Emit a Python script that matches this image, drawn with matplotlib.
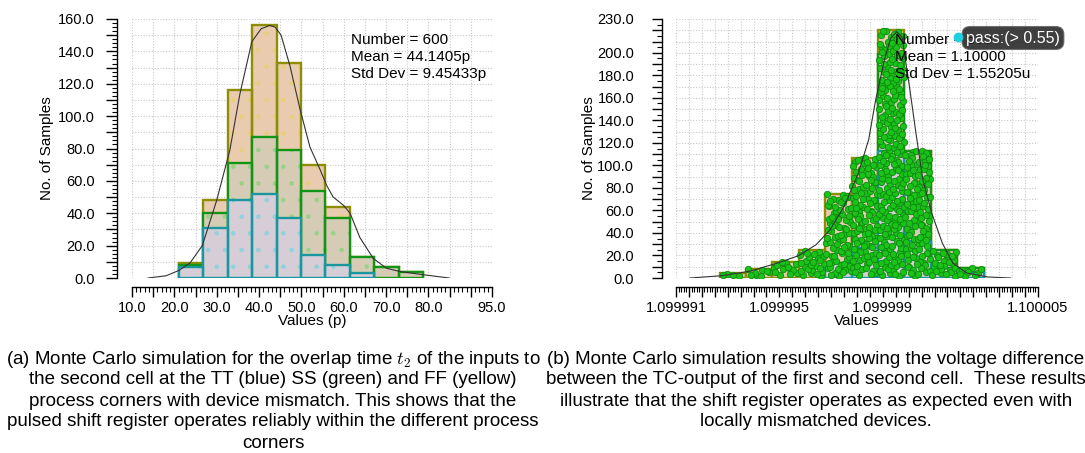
import numpy as np
import matplotlib
matplotlib.use('Agg')
import matplotlib.pyplot as plt
from matplotlib.ticker import MultipleLocator, FuncFormatter

plt.rcParams['font.family'] = ['Liberation Sans', 'DejaVu Sans']
plt.rcParams['mathtext.fontset'] = 'cm'
plt.rcParams['hatch.linewidth'] = 1.0

# ---------------- data (a): overlap time t2, stacked corners ----------------
a_bin_start = 21.1
a_bin_width = 5.76
a_tt = [7, 31, 48, 52, 37, 14, 8, 3, 0, 0]      # blue
a_ss = [1, 9, 23, 35, 42, 40, 29, 10, 7, 4]     # green
a_ff = [1, 8, 45, 69, 54, 16, 7, 0, 0, 0]       # yellow
a_curve_x = [13.8, 18.1, 21.1, 23.7, 26.6, 30.0, 33.1, 35.5, 38.3, 40.5, 42.5,
             43.8, 45.2, 47.3, 49.7, 52.0, 54.4, 56.0, 57.5, 59.9, 61.5, 63.8,
             67.0, 70.1, 73.3, 78.8, 84.9]
a_curve_y = [0, 1.4, 4.7, 9.3, 20, 48, 79, 114, 146, 154, 156,
             155, 150, 131, 104, 81, 67, 57, 50, 45, 40, 25,
             12, 6, 4, 2, 0]
a_stats = ["Number = 600", "Mean = 44.1405p", "Std Dev = 9.45433p"]
a_xlabels = [10, 20, 30, 40, 50, 60, 70, 80, 95]

# ---------------- data (b): voltage difference ----------------
b_origin = 1.099991
b_bin_start_u = 1.69       # micro-units above origin
b_bin_width_u = 1.021
b_tt = [0, 0, 0, 0, 13, 27, 113, 33, 9, 5]
b_ss = [0, 0, 0, 0, 0, 14, 86, 80, 16, 4]
b_ff = [4, 8, 14, 25, 62, 66, 21, 0, 0, 0]
b_curve_u = [0.54, 1.76, 2.85, 3.93, 4.74, 5.42, 5.96, 6.50, 7.05, 7.45, 7.72,
             8.06, 8.30, 8.54, 8.74, 9.01, 9.28, 9.55, 9.89, 10.30, 10.70,
             11.25, 12.06, 12.94]
b_curve_y = [0, 2, 6, 13.3, 19.8, 29.6, 42.9, 63.6, 93, 122.7, 158,
             193.6, 213, 218.7, 214, 173, 128.6, 87, 57.6, 31, 13.3,
             4.4, 0.9, 0]
b_stats = ["Number = 600", "Mean = 1.10000", "Std Dev = 1.55205u"]
b_xlabels = ["1.099991", "1.099995", "1.099999", "1.100005"]
b_marker_label = "pass:(> 0.55)"

W, H = 1085, 453
fig = plt.figure(figsize=(W / 100, H / 100), dpi=100)

def px(x0, y0, x1, y1):
    return [x0 / W, 1 - y1 / H, (x1 - x0) / W, (y1 - y0) / H]

ax1 = fig.add_axes(px(132, 19, 492, 278))
ax2 = fig.add_axes(px(676, 19, 1038, 278))

FF_FILL, FF_EDGE, FF_SPK = '#e9cbb0', '#8e8e06', '#e6d640'
SS_FILL, SS_EDGE, SS_SPK = '#d6ccb6', '#149414', '#52d852'
TT_FILL, TT_EDGE, TT_SPK = '#d6cdd6', '#1a969e', '#40d8e6'
GRID = '#c9c9c9'


def style_axis(ax, left_out, bottom_out):
    for s in ['top', 'right']:
        ax.spines[s].set_visible(False)
    ax.spines['left'].set_position(('outward', left_out))
    ax.spines['bottom'].set_position(('outward', bottom_out))
    for s in ['left', 'bottom']:
        ax.spines[s].set_linewidth(1.0)
    ax.tick_params(which='major', direction='out', length=7, width=1.0,
                   labelsize=10.5, color='black')
    ax.tick_params(which='minor', direction='out', length=3.5, width=0.8)
    ax.grid(True, which='major', linestyle=(0, (1, 1.5)), color=GRID, linewidth=0.8)
    ax.set_axisbelow(True)


def stacked_bars(ax, lefts, width, tt, ss, ff, speckle):
    tt = np.asarray(tt, float)
    ss = np.asarray(ss, float)
    ff = np.asarray(ff, float)
    layers = [(tt + ss + ff, FF_FILL, FF_EDGE, FF_SPK, 2),
              (tt + ss, SS_FILL, SS_EDGE, SS_SPK, 3),
              (tt, TT_FILL, TT_EDGE, TT_SPK, 4)]
    for h, fc, ec, sc, z in layers:
        m = h > 0
        ax.bar(lefts[m], h[m], width=width, align='edge', color=fc,
               edgecolor='none', linewidth=0, zorder=z)
        if speckle:
            ax.bar(lefts[m], h[m], width=width, align='edge', color='none',
                   edgecolor=sc, hatch='.', linewidth=0, zorder=z + 0.1, alpha=0.35)
        ax.bar(lefts[m], h[m], width=width, align='edge', color='none',
               edgecolor=ec, linewidth=1.7, zorder=z + 0.2)


def halton(i, base):
    f, r = 1.0, 0.0
    while i > 0:
        f /= base
        r += f * (i % base)
        i //= base
    return r

# ---------------- panel (a) ----------------
n_a = len(a_tt)
a_lefts = a_bin_start + a_bin_width * np.arange(n_a)
stacked_bars(ax1, a_lefts, a_bin_width, a_tt, a_ss, a_ff, True)
ax1.plot(a_curve_x, a_curve_y, color='#333333', lw=0.8, zorder=10)
ax1.set_xlim(10, 95)
ax1.set_ylim(0, 160)
style_axis(ax1, 10.8, 6.5)
ax1.xaxis.set_major_locator(MultipleLocator(5))
ax1.xaxis.set_minor_locator(MultipleLocator(1))
ax1.xaxis.set_major_formatter(FuncFormatter(
    lambda v, p: f"{v:.1f}" if any(abs(v - t) < 1e-6 for t in a_xlabels) else ""))
ax1.yaxis.set_major_locator(MultipleLocator(10))
ax1.yaxis.set_minor_locator(MultipleLocator(2.5))
ax1.yaxis.set_major_formatter(FuncFormatter(
    lambda v, p: f"{v:.1f}" if abs(v / 20 - round(v / 20)) < 1e-6 else ""))
ax1.tick_params(axis='y', which='major', length=8, pad=8)
ax1.tick_params(axis='x', which='major', pad=3)
ax1.set_ylabel("No. of Samples", fontsize=11, labelpad=3)
ax1.set_xlabel("Values (p)", fontsize=11, labelpad=-1)
for i, s in enumerate(a_stats):
    fig.text(351 / W, 1 - (40 + 17 * i) / H, s, fontsize=11, va='center', ha='left')

# ---------------- panel (b) ----------------
n_b = len(b_tt)
b_lefts = b_origin + 1e-6 * (b_bin_start_u + b_bin_width_u * np.arange(n_b))
b_w = b_bin_width_u * 1e-6
stacked_bars(ax2, b_lefts, b_w, b_tt, b_ss, b_ff, False)

# one dot per sample, laid out inside its bin with a Halton (2,3) pattern
totals = np.asarray(b_tt) + np.asarray(b_ss) + np.asarray(b_ff)
dx, dy = [], []
k = 0
for left, tot in zip(b_lefts, totals):
    for _ in range(int(tot)):
        k += 1
        u = halton(k, 2)
        v = halton(k, 3)
        dx.append(left + (0.02 + 0.96 * u) * b_w)
        dy.append(1.5 + v * (tot - 1.0))
ax2.scatter(dx, dy, s=21, facecolor='#1ac21a', edgecolor='#0c8c0c',
            linewidth=0.6, zorder=8)

b_curve_x = b_origin + 1e-6 * np.asarray(b_curve_u)
ax2.plot(b_curve_x, b_curve_y, color='#333333', lw=0.8, zorder=10)
ax2.set_xlim(b_origin, b_origin + 14e-6)
ax2.set_ylim(0, 230)
style_axis(ax2, 10.1, 6.5)
b_label_vals = [float(s) for s in b_xlabels]
ax2.xaxis.set_major_locator(MultipleLocator(0.5e-6))
ax2.xaxis.set_minor_locator(MultipleLocator(0.1e-6))


def bfmt(v, p):
    for s, t in zip(b_xlabels, b_label_vals):
        if abs(v - t) < 1e-9:
            return s
    return ""


ax2.xaxis.set_major_formatter(FuncFormatter(bfmt))
ax2.yaxis.set_major_locator(MultipleLocator(10))
ax2.yaxis.set_minor_locator(MultipleLocator(5))
ax2.yaxis.set_major_formatter(FuncFormatter(
    lambda v, p: f"{v:.1f}" if (abs(v / 20 - round(v / 20)) < 1e-6 and v <= 200) or abs(v - 230) < 1e-6 else ""))
ax2.tick_params(axis='y', which='major', length=7, pad=13)
ax2.tick_params(axis='x', which='major', pad=3)
ax2.set_ylabel("No. of Samples", fontsize=11, labelpad=1)
ax2.set_xlabel("Values", fontsize=11, labelpad=-1)
for i, s in enumerate(b_stats):
    fig.text(895 / W, 1 - (40 + 17 * i) / H, s, fontsize=11, va='center', ha='left',
             zorder=20)
fig.text(966 / W, 1 - 38 / H, b_marker_label, fontsize=11.5, va='center', ha='left',
         color='white', zorder=30,
         bbox=dict(boxstyle='round,pad=0.25,rounding_size=0.5', fc='#1e1e1e',
                   ec='#666666', lw=0.8, alpha=0.85))
fig.add_artist(plt.Line2D([958 / W], [1 - 37 / H], marker='o', markersize=6,
                          color='#20d0e0', markeredgecolor='#20d0e0', zorder=40))

# ---------------- captions ----------------
cap_a = ["(a) Monte Carlo simulation for the overlap time $t_2$ of the inputs to",
         "the second cell at the TT (blue) SS (green) and FF (yellow)",
         "process corners with device mismatch. This shows that the",
         "pulsed shift register operates reliably within the different process",
         "corners"]
cap_b = ["(b) Monte Carlo simulation results showing the voltage difference",
         "between the TC-output of the first and second cell.  These results",
         "illustrate that the shift register operates as expected even with",
         "locally mismatched devices."]
for i, s in enumerate(cap_a):
    fig.text(273 / W, 1 - (359 + 21 * i) / H, s, fontsize=13.5, ha='center', va='center')
for i, s in enumerate(cap_b):
    fig.text(816 / W, 1 - (359 + 21 * i) / H, s, fontsize=13.5, ha='center', va='center')

fig.savefig('out.png', dpi=100)
